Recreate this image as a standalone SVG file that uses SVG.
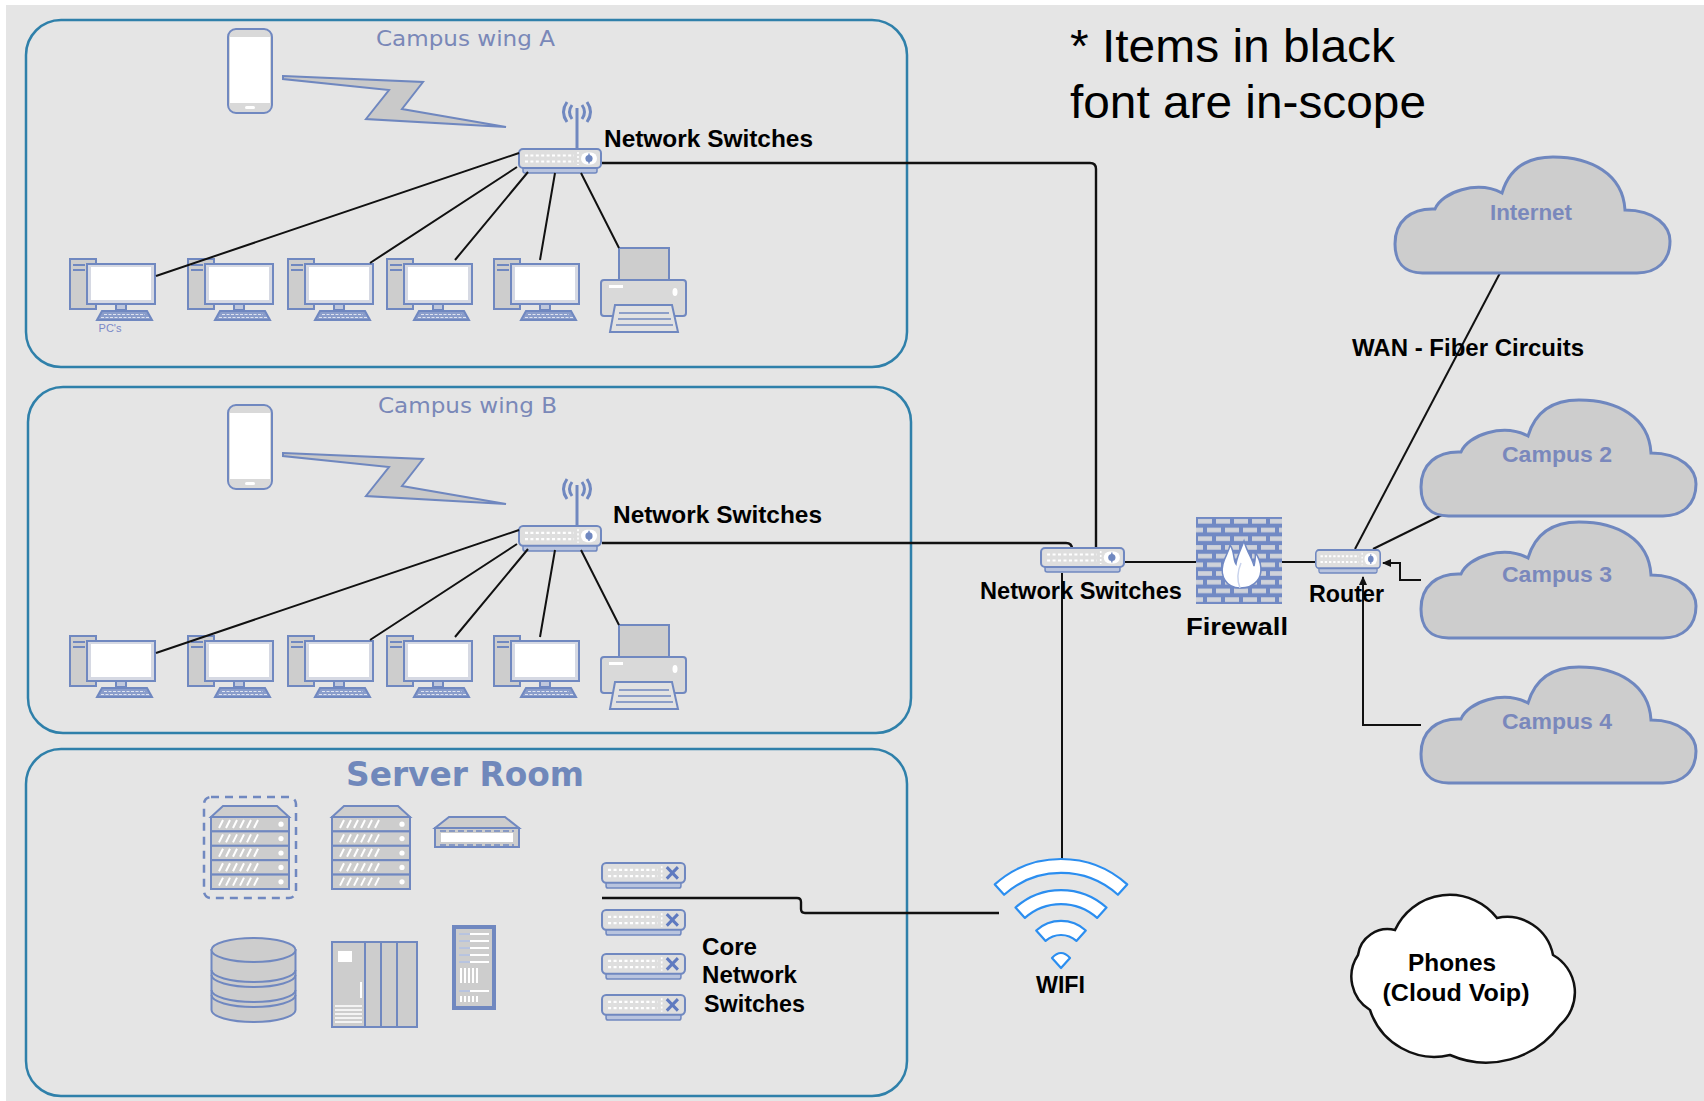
<svg xmlns="http://www.w3.org/2000/svg" width="1704" height="1101" viewBox="0 0 1704 1101">
  <style>
    .bg { fill: #e5e5e5; }
    .panel { fill: none; stroke: #2f80aa; stroke-width: 2.5; }
    .ico { stroke: #7088c0; stroke-width: 2; }
    .gfill { fill: #cdcdcd; }
    .wire { fill: none; stroke: #111; stroke-width: 2; }
    .wire-thick { fill: none; stroke: #111; stroke-width: 2.4; }
    .lbl { font-family: "Liberation Sans", Arial, sans-serif; font-weight: bold; font-size: 24px; fill: #000; }
    .note { font-family: "Liberation Sans", Arial, sans-serif; font-size: 47px; fill: #000; }
    .area { font-family: "DejaVu Sans", Verdana, sans-serif; font-size: 21px; fill: #7a88b8; }
    .cloudtxt { font-family: "Liberation Sans", Arial, sans-serif; font-weight: bold; font-size: 22px; fill: #7a88bc; text-anchor: middle; }
    .cloud { fill: #cdcdcd; stroke: #6f87bf; stroke-width: 3; }
    .wifi { fill: #fff; stroke: #2b8ef0; stroke-width: 2.2; stroke-linejoin: round; }
  </style>
  <defs>
    <marker id="arr" markerWidth="10" markerHeight="10" refX="8" refY="5" orient="auto" markerUnits="userSpaceOnUse">
      <path d="M0,1 L9,5 L0,9 Z" fill="#111"/>
    </marker>

    <pattern id="bricks" x="1196" y="517" width="36" height="17.4" patternUnits="userSpaceOnUse">
      <rect x="2" y="2" width="14" height="4.6" fill="#cfd2da"/>
      <rect x="20" y="2" width="14" height="4.6" fill="#cfd2da"/>
      <rect x="-7" y="10.7" width="14" height="4.6" fill="#cfd2da"/>
      <rect x="11" y="10.7" width="14" height="4.6" fill="#cfd2da"/>
      <rect x="29" y="10.7" width="14" height="4.6" fill="#cfd2da"/>
    </pattern>

    <!-- desktop PC: tower behind, monitor, keyboard -->
    <g id="pc">
      <rect x="0" y="0" width="26" height="50" class="gfill ico" stroke-width="1.6"/>
      <rect x="3" y="5" width="12" height="2" fill="#7088c0"/>
      <rect x="3" y="10" width="12" height="2" fill="#7088c0"/>
      <rect x="17" y="5" width="68" height="40" fill="#d6d9e3" class="ico" stroke-width="1.8"/>
      <rect x="21" y="8" width="60" height="33" fill="#fff"/>
      <rect x="46" y="45" width="10" height="6" fill="#c0c8dc" class="ico" stroke-width="1.4"/>
      <path d="M27,61 L32,52 L77,52 L82,61 Z" fill="#8a9dcb" class="ico" stroke-width="1.4"/>
      <path d="M34,55.5 H75 M31,58.5 H79" stroke="#dfe4f0" stroke-width="1" stroke-dasharray="3 1.5"/>
    </g>

    <!-- printer -->
    <g id="printer">
      <rect x="18" y="1" width="50" height="33" class="gfill ico"/>
      <rect x="0" y="33" width="85" height="36" rx="3" fill="#d9d9d9" class="ico"/>
      <rect x="8" y="38" width="14" height="3" fill="#fff"/>
      <ellipse cx="74" cy="45" rx="2.5" ry="4" fill="#fff"/>
      <path d="M14,58 L71,58 L77,85 L9,85 Z" fill="#e2e2e2" class="ico"/>
      <path d="M18,66 H68 M17,72 H70 M15,78 H72" stroke="#7088c0" stroke-width="1.6"/>
    </g>

    <!-- handheld device -->
    <g id="phone">
      <rect x="0" y="0" width="44" height="84" rx="8" fill="#d9d9d9" class="ico"/>
      <rect x="2" y="8" width="40" height="66" fill="#fff"/>
      <rect x="17" y="77" width="10" height="3" rx="1.5" fill="#fff"/>
    </g>

    <!-- wireless link bolt -->
    <polygon id="bolt" points="283,76 423,82 402,109 506,127 366,119 389,90 283,79" fill="#c9c9c9" stroke="#6f87bf" stroke-width="2" stroke-linejoin="miter"/>

    <!-- access switch, 84 x 26 -->
    <symbol id="sw" viewBox="0 0 84 26" preserveAspectRatio="none">
      <rect x="5" y="18" width="74" height="7" rx="2" fill="#b9c4de" stroke="#7088c0" stroke-width="1.5"/>
      <rect x="1" y="1" width="82" height="19" rx="4" fill="#dedede" stroke="#7088c0" stroke-width="2"/>
      <path d="M7,7.5 H56 M7,13.5 H56" stroke="#fff" stroke-width="2.2" stroke-dasharray="3 2.4"/>
      <path d="M60,4 V17" stroke="#fff" stroke-width="1.6" stroke-dasharray="2 2"/>
      <rect x="63" y="4.5" width="16" height="12" rx="6" fill="#fff"/>
      <circle cx="71" cy="10.5" r="3.6" fill="#7088c0"/>
      <path d="M71,5.5 V15.5" stroke="#7088c0" stroke-width="1.4"/>
    </symbol>

    <!-- core switch, 84 x 26 -->
    <symbol id="core" viewBox="0 0 84 26" preserveAspectRatio="none">
      <rect x="5" y="18" width="74" height="7" rx="2" fill="#b9c4de" stroke="#7088c0" stroke-width="1.5"/>
      <rect x="1" y="1" width="82" height="19" rx="4" fill="#dedede" stroke="#7088c0" stroke-width="2"/>
      <path d="M7,7.5 H56 M7,13.5 H56" stroke="#fff" stroke-width="2.2" stroke-dasharray="3 2.4"/>
      <path d="M60,4 V17" stroke="#fff" stroke-width="1.6" stroke-dasharray="2 2"/>
      <path d="M65,5 L76,16 M76,5 L65,16" stroke="#5f7ac0" stroke-width="3"/>
    </symbol>

    <!-- rack server, 78 x 83 -->
    <g id="rack">
      <polygon points="12,0 66,0 78,11 0,11" class="gfill ico"/>
      <g class="gfill ico">
        <rect x="0" y="11" width="78" height="14.4"/>
        <rect x="0" y="25.4" width="78" height="14.4"/>
        <rect x="0" y="39.8" width="78" height="14.4"/>
        <rect x="0" y="54.2" width="78" height="14.4"/>
        <rect x="0" y="68.6" width="78" height="14.4"/>
      </g>
      <g stroke="#fff" stroke-width="2">
        <path d="M8,22 L12,14 M15,22 L19,14 M22,22 L26,14 M29,22 L33,14 M36,22 L40,14 M43,22 L47,14"/>
        <path d="M8,36.4 L12,28.4 M15,36.4 L19,28.4 M22,36.4 L26,28.4 M29,36.4 L33,28.4 M36,36.4 L40,28.4 M43,36.4 L47,28.4"/>
        <path d="M8,50.8 L12,42.8 M15,50.8 L19,42.8 M22,50.8 L26,42.8 M29,50.8 L33,42.8 M36,50.8 L40,42.8 M43,50.8 L47,42.8"/>
        <path d="M8,65.2 L12,57.2 M15,65.2 L19,57.2 M22,65.2 L26,57.2 M29,65.2 L33,57.2 M36,65.2 L40,57.2 M43,65.2 L47,57.2"/>
        <path d="M8,79.6 L12,71.6 M15,79.6 L19,71.6 M22,79.6 L26,71.6 M29,79.6 L33,71.6 M36,79.6 L40,71.6 M43,79.6 L47,71.6"/>
      </g>
      <g fill="#fff">
        <circle cx="70" cy="18.2" r="2.6"/>
        <circle cx="70" cy="32.6" r="2.6"/>
        <circle cx="70" cy="47" r="2.6"/>
        <circle cx="70" cy="61.4" r="2.6"/>
        <circle cx="70" cy="75.8" r="2.6"/>
      </g>
    </g>

    <!-- WAN cloud outline, 275 x 116 -->
    <path id="wan" d="M27.5,116 C8,116 0,104 0,87 C0,64 16,51 40,52 C47,35 82,23 107,36 C115,9 135,0 158,0 C196,0 228,17 230,53 C261,53 275,70 275,84 C275,104 262,116 242,116 Z"/>
  </defs>

  <rect x="6" y="5" width="1698" height="1096" class="bg"/>

  <text class="note" x="1070" y="62" textLength="325" lengthAdjust="spacingAndGlyphs">* Items in black</text>
  <text class="note" x="1070" y="118" textLength="356" lengthAdjust="spacingAndGlyphs">font are in-scope</text>

  <!-- Campus wing A -->
  <g id="wing-a">
    <rect x="26" y="20" width="881" height="347" rx="35" class="panel"/>
    <text class="area" x="376" y="46" textLength="179" lengthAdjust="spacingAndGlyphs">Campus wing A</text>
    <g id="phone-a"><use href="#phone" x="228" y="29"/></g>
    <g id="bolt-a"><use href="#bolt"/></g>
    <g id="pc-a1"><use href="#pc" x="70" y="259"/>
      <text x="110" y="332" font-family="Liberation Sans, Arial, sans-serif" font-size="11" fill="#7a88c8" text-anchor="middle">PC's</text>
    </g>
    <g id="pc-a2"><use href="#pc" x="188" y="259"/></g>
    <g id="pc-a3"><use href="#pc" x="288" y="259"/></g>
    <g id="pc-a4"><use href="#pc" x="387" y="259"/></g>
    <g id="pc-a5"><use href="#pc" x="494" y="259"/></g>
    <g id="printer-a"><use href="#printer" x="601" y="247"/></g>
    <g id="switch-a">
      <path d="M577,149 V108" stroke="#7088c0" stroke-width="3"/>
      <path d="M567,102 Q560,112 567,122 M572,105 Q567,112 572,119 M587,102 Q594,112 587,122 M582,105 Q587,112 582,119" fill="none" stroke="#7088c0" stroke-width="3"/>
      <use href="#sw" x="518" y="148" width="84" height="26"/>
      <text class="lbl" x="604" y="147" textLength="209" lengthAdjust="spacingAndGlyphs">Network Switches</text>
    </g>
  </g>

  <!-- Campus wing B -->
  <g id="wing-b">
    <rect x="28" y="387" width="883" height="346" rx="35" class="panel"/>
    <text class="area" x="378" y="413" textLength="179" lengthAdjust="spacingAndGlyphs">Campus wing B</text>
    <g id="phone-b"><use href="#phone" x="228" y="405"/></g>
    <g id="bolt-b"><use href="#bolt" y="377"/></g>
    <g id="pc-b1"><use href="#pc" x="70" y="636"/></g>
    <g id="pc-b2"><use href="#pc" x="188" y="636"/></g>
    <g id="pc-b3"><use href="#pc" x="288" y="636"/></g>
    <g id="pc-b4"><use href="#pc" x="387" y="636"/></g>
    <g id="pc-b5"><use href="#pc" x="494" y="636"/></g>
    <g id="printer-b"><use href="#printer" x="601" y="624"/></g>
    <g id="switch-b">
      <path d="M577,526 V485" stroke="#7088c0" stroke-width="3"/>
      <path d="M567,479 Q560,489 567,499 M572,482 Q567,489 572,496 M587,479 Q594,489 587,499 M582,482 Q587,489 582,496" fill="none" stroke="#7088c0" stroke-width="3"/>
      <use href="#sw" x="518" y="525" width="84" height="27"/>
      <text class="lbl" x="613" y="523" textLength="209" lengthAdjust="spacingAndGlyphs">Network Switches</text>
    </g>
  </g>

  <!-- Server room -->
  <g id="server-room">
    <rect x="26" y="749" width="881" height="347" rx="35" class="panel"/>
    <text x="465" y="786" text-anchor="middle" font-family="DejaVu Sans, Verdana, sans-serif" font-weight="bold" font-size="33" fill="#7088bb" textLength="238" lengthAdjust="spacingAndGlyphs">Server Room</text>
    <g id="server-virtual">
      <rect x="204" y="797" width="92" height="101" rx="7" fill="none" stroke="#7088c0" stroke-width="2.5" stroke-dasharray="8 6"/>
      <use href="#rack" x="211" y="806"/>
    </g>
    <g id="server-rack"><use href="#rack" x="332" y="806"/></g>
    <g id="appliance">
      <polygon points="449,817 505,817 519,828 435,828" class="gfill ico"/>
      <rect x="435" y="828" width="84" height="19" class="gfill ico"/>
      <rect x="441" y="833" width="72" height="9" fill="#fff"/>
      <path d="M440,831 H514 M440,845 H514" stroke="#7088c0" stroke-width="1.4" stroke-dasharray="6 3"/>
    </g>
    <g id="database">
      <path d="M211.5,950 V1010 A42,12 0 0 0 295.5,1010 V950 Z" class="gfill ico"/>
      <path d="M211.5,970 A42,12 0 0 0 295.5,970 M211.5,975 A42,12 0 0 0 295.5,975 M211.5,990 A42,12 0 0 0 295.5,990 M211.5,995 A42,12 0 0 0 295.5,995" fill="none" class="ico"/>
      <ellipse cx="253.5" cy="950" rx="42" ry="12" class="gfill ico"/>
    </g>
    <g id="mainframe">
      <rect x="332" y="942" width="85" height="85" class="gfill ico"/>
      <path d="M365,942 V1027 M381,942 V1027 M397,942 V1027" class="ico"/>
      <rect x="338" y="951" width="14" height="11" fill="#fff"/>
      <path d="M361,982 V998" stroke="#fff" stroke-width="2"/>
      <path d="M335,1006 H362 M335,1010 H362 M335,1014 H362 M335,1018 H362 M335,1022 H362" stroke="#fff" stroke-width="1.5"/>
    </g>
    <g id="storage-rack">
      <rect x="452" y="925" width="44" height="85" fill="#7088c0"/>
      <rect x="456" y="929" width="36" height="77" fill="#cdcdcd"/>
      <path d="M459,934 H489 M459,941 H489 M459,948 H489 M459,955 H489 M459,962 H489 M459,991 H489" stroke="#fff" stroke-width="2"/>
      <path d="M459,934 H470 M459,941 H470 M459,948 H470 M459,955 H470 M459,962 H470 M459,991 H470" stroke="#7088c0" stroke-width="1"/>
      <path d="M461,968 V983 M465,968 V983 M469,968 V983 M473,968 V983 M477,968 V983 M461,996 V1002 M465,996 V1002 M469,996 V1002 M473,996 V1002 M477,996 V1002" stroke="#fff" stroke-width="2"/>
    </g>
    <g id="core-switches">
      <use href="#core" x="601" y="862" width="85" height="27"/>
      <use href="#core" x="601" y="909" width="85" height="27"/>
      <use href="#core" x="601" y="953" width="85" height="27"/>
      <use href="#core" x="601" y="994" width="85" height="27"/>
      <text class="lbl" x="702" y="955" textLength="55" lengthAdjust="spacingAndGlyphs">Core</text>
      <text class="lbl" x="702" y="983" textLength="95" lengthAdjust="spacingAndGlyphs">Network</text>
      <text class="lbl" x="704" y="1012" textLength="101" lengthAdjust="spacingAndGlyphs">Switches</text>
    </g>
  </g>

  <!-- connectors -->
  <g id="connectors">
    <path class="wire" d="M156,276 L519,153 M370,263 L517,167 M455,260 L528,172 M540,260 L555,173 M619,248 L581,173"/>
    <path class="wire" d="M156,653 L519,530 M370,640 L517,544 M455,637 L528,549 M540,637 L555,550 M619,625 L581,550"/>
    <path class="wire-thick" d="M602,163 H1090 Q1096,163 1096,169 V547"/>
    <path class="wire-thick" d="M602,543 H1066 Q1072,543 1072,549"/>
    <path class="wire" d="M1062,573 V860"/>
    <path class="wire" d="M1125,562 H1196 M1282,562 H1315"/>
    <path class="wire" d="M1500,273 L1355,549"/>
    <path class="wire" d="M1442,515 L1373,549"/>
    <path class="wire" d="M1421,580 H1400 V563 H1383" marker-end="url(#arr)"/>
    <path class="wire" d="M1421,725 H1363 V577" marker-end="url(#arr)"/>
    <path class="wire-thick" d="M602,898 H797 Q801,898 801,902 V909 Q801,913 805,913 H999"/>
  </g>

  <!-- distribution switch -->
  <g id="dist-switch">
    <use href="#sw" x="1040" y="547" width="85" height="26"/>
    <text class="lbl" x="980" y="599" textLength="202" lengthAdjust="spacingAndGlyphs">Network Switches</text>
  </g>

  <!-- firewall -->
  <g id="firewall">
    <rect x="1196" y="517" width="86" height="87" fill="#7189c4"/>
    <rect x="1196" y="517" width="86" height="87" fill="url(#bricks)"/>
    <path d="M1240,588 C1226,588 1220,576 1223,564 C1225,556 1229,552 1230,545 C1235,552 1233,560 1236,564 C1237,556 1241,549 1244,541 C1247,552 1252,558 1254,566 C1255,561 1256,557 1255,552 C1262,562 1263,574 1257,581 C1253,586 1247,588 1240,588 Z" fill="#fff" stroke="#7189c4" stroke-width="1.5"/>
    <path d="M1240,588 C1236,578 1238,570 1241,563" fill="none" stroke="#c9d3ec" stroke-width="1.5"/>
    <text class="lbl" x="1186" y="635" font-size="27" textLength="102" lengthAdjust="spacingAndGlyphs">Firewall</text>
  </g>

  <!-- router -->
  <g id="router">
    <use href="#sw" x="1315" y="549" width="66" height="25"/>
    <text class="lbl" x="1309" y="602" font-weight="normal" font-size="25" textLength="75" lengthAdjust="spacingAndGlyphs">Router</text>
  </g>

  <text class="lbl" x="1352" y="356" textLength="232" lengthAdjust="spacingAndGlyphs">WAN - Fiber Circuits</text>

  <!-- WAN clouds -->
  <g id="internet">
    <use href="#wan" class="cloud" transform="translate(1395,157)"/>
    <text class="cloudtxt" x="1531" y="220" textLength="82" lengthAdjust="spacingAndGlyphs">Internet</text>
  </g>
  <g id="campus-2">
    <use href="#wan" class="cloud" transform="translate(1421,400)"/>
    <text class="cloudtxt" x="1557" y="462" textLength="110" lengthAdjust="spacingAndGlyphs">Campus 2</text>
  </g>
  <g id="campus-3">
    <use href="#wan" class="cloud" transform="translate(1421,522)"/>
    <text class="cloudtxt" x="1557" y="582" textLength="110" lengthAdjust="spacingAndGlyphs">Campus 3</text>
  </g>
  <g id="campus-4">
    <use href="#wan" class="cloud" transform="translate(1421,667)"/>
    <text class="cloudtxt" x="1557" y="729" textLength="110" lengthAdjust="spacingAndGlyphs">Campus 4</text>
  </g>

  <!-- wireless access point -->
  <g id="wifi">
    <path class="wifi" d="M994.8,884.4 A99,99 0 0 1 1127.2,884.4 L1117.9,894.8 A85,85 0 0 0 1004.1,894.8 Z"/>
    <path class="wifi" d="M1015.5,907.5 A68,68 0 0 1 1106.5,907.5 L1097.1,917.9 A54,54 0 0 0 1024.9,917.9 Z"/>
    <path class="wifi" d="M1036.2,930.5 A37,37 0 0 1 1085.8,930.5 L1076.4,940.9 A23,23 0 0 0 1045.6,940.9 Z"/>
    <path class="wifi" d="M1052,958 Q1061,948 1070,958 L1061,968 Z"/>
    <text class="lbl" x="1036" y="993" textLength="49" lengthAdjust="spacingAndGlyphs">WIFI</text>
  </g>

  <!-- hosted voice -->
  <g id="phones">
    <path d="M1395,930 A60,60 0 0 1 1497,918 A47,47 0 0 1 1553,955 A43,43 0 0 1 1560,1025 A91,91 0 0 1 1450,1055 A68,68 0 0 1 1370,1010 A39,39 0 0 1 1358,955 A30,30 0 0 1 1395,930 Z" fill="#fff" stroke="#111" stroke-width="2.5"/>
    <text class="lbl" x="1452" y="971" text-anchor="middle" textLength="88" lengthAdjust="spacingAndGlyphs">Phones</text>
    <text class="lbl" x="1456" y="1001" text-anchor="middle" textLength="147" lengthAdjust="spacingAndGlyphs">(Cloud Voip)</text>
  </g>
</svg>
